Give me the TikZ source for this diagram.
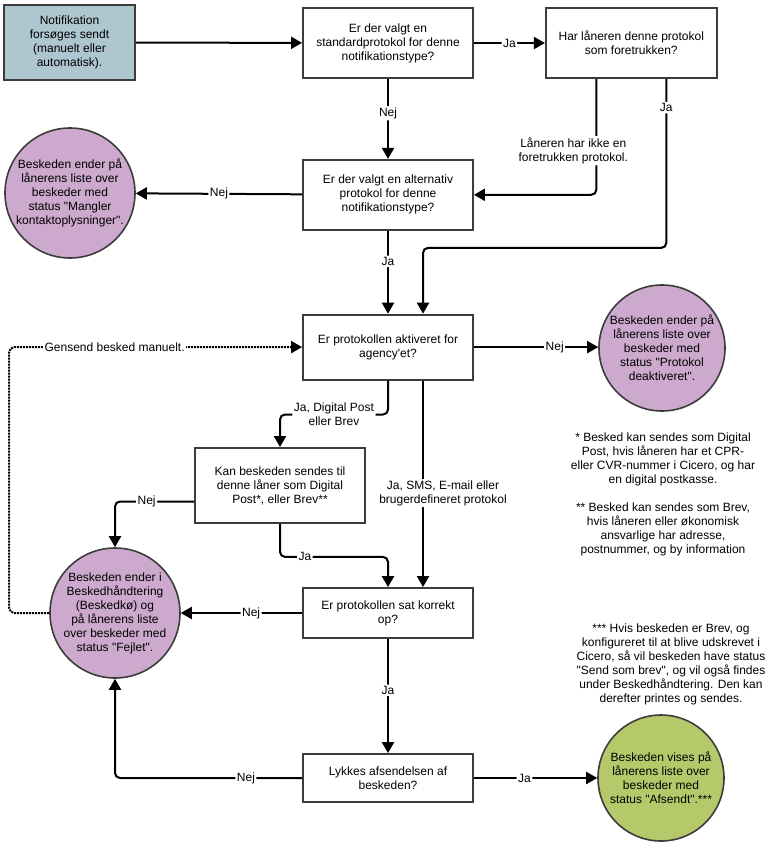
\documentclass[tikz,border=0pt]{standalone}
\usepackage{fontspec}
\newfontfamily\flowfont{Liberation Sans}
\usetikzlibrary{arrows.meta, positioning}
\definecolor{startblue}{RGB}{174,198,207}
\definecolor{endpurple}{RGB}{205,170,205}
\definecolor{endgreen}{RGB}{181,201,107}
\definecolor{boxline}{RGB}{60,60,60}
\tikzset{
    >={Triangle[length=11pt,width=12pt]}, % filled block arrow heads
    every node/.style={font=\flowfont\fontsize{12}{14}\selectfont, align=center}, % Arial-like text everywhere
    box/.style={draw=boxline, line width=1.8pt, minimum width=170pt, inner sep=2pt}, % question boxes
    startbox/.style={box, fill=startblue, minimum width=131pt, minimum height=75pt}, % where it all begins
    endstate/.style={circle, draw=boxline, line width=1.6pt, fill=endpurple, minimum size=130pt, inner sep=-4pt}, % outcomes
    flow/.style={->, line width=2pt, rounded corners=5pt}, % the connectors
    lbl/.style={fill=white, inner sep=1.5pt}, % Ja / Nej labels on the connectors
}

\begin{document}
\begin{tikzpicture}[x=1pt, y=-1pt]
            \useasboundingbox (0,0) rectangle (778,848);
            \node[startbox] (start) at (69.5,42.5) {Notifikation\\forsøges sendt\\(manuelt eller\\automatisk).};
            \node[box, minimum height=70pt] (std) at (388,43) {Er der valgt en\\standardprotokol for denne\\notifikationstype?};
            \node[box, minimum height=70pt, minimum width=171pt, right=71pt of std] (pref) {Har låneren denne protokol\\som foretrukken?};
            \node[box, minimum height=70pt, below=80pt of std] (alt) {Er der valgt en alternativ\\protokol for denne\\notifikationstype?};
            \node[box, minimum height=65pt, below=83pt of alt] (active) {Er protokollen aktiveret for\\agency'et?};
            \node[box, minimum height=75pt] (digital) at (280,485.5) {Kan beskeden sendes til\\denne låner som Digital\\Post*, eller Brev**};
            \node[box, minimum height=50pt] (setup) at (388,613) {Er protokollen sat korrekt\\op?};
            \node[box, minimum height=48pt] (sent) at (388,778) {Lykkes afsendelsen af\\beskeden?};
            \node[endstate] (nocontact) at (70,193) {Beskeden ender på\\lånerens liste over\\beskeder med\\status "Mangler\\kontaktoplysninger".};
            \node[endstate, minimum size=126pt] (deactivated) at (662,348) {Beskeden ender på\\lånerens liste over\\beskeder med\\status "Protokol\\deaktiveret".};
            \node[endstate] (failed) at (115,613) {Beskeden ender i\\Beskedhåndtering\\(Beskedkø) og\\på lånerens liste\\over beskeder med\\status "Fejlet".};
            \node[endstate, fill=endgreen, minimum size=126pt] (success) at (661,778) {Beskeden vises på\\lånerens liste over\\beskeder med\\status "Afsendt".***};
            \node (note1) at (663,459) {* Besked kan sendes som Digital\\Post, hvis låneren har et CPR-\\eller CVR-nummer i Cicero, og har\\en digital postkasse.};
            \node (note2) at (663,529) {** Besked kan sendes som Brev,\\hvis låneren eller økonomisk\\ansvarlige har adresse,\\postnummer, og by information};
            \node (note3) at (671,664) {*** Hvis beskeden er Brev, og\\konfigureret til at blive udskrevet i\\Cicero, så vil beskeden have status\\"Send som brev", og vil også findes\\under Beskedhåndtering. Den kan\\derefter printes og sendes.};
            \draw[flow] (start) -- (std);
            \draw[flow] (std) -- node[lbl]{Ja} (pref);
            \draw[flow] (std) -- node[lbl, pos=0.43]{Nej} (alt);
            \draw[flow] ([xshift=-35pt]pref.south) |- node[lbl, pos=0.31, xshift=-23pt]{Låneren har ikke en\\foretrukken protokol.} (alt.east);
            \draw[flow] ([xshift=35pt]pref.south) -- node[lbl, pos=0.17]{Ja} ++(0,169) -| ([xshift=35pt]active.north);
            \draw[flow] (alt) -- node[lbl, pos=0.37]{Ja} (active);
            \draw[flow] (alt) -- node[lbl]{Nej} (nocontact);
            \draw[flow] (active.east) -- node[lbl, pos=0.65]{Nej} (deactivated.west |- active.east);
            \draw[flow] (active.south) -- ++(0,34) -| node[lbl, pos=0.25]{Ja, Digital Post\\eller Brev} (digital.north);
            \draw[flow] ([xshift=35pt]active.south) -- node[lbl, pos=0.545, xshift=20pt]{Ja, SMS, E-mail eller\\brugerdefineret protokol} ([xshift=35pt]setup.north);
            \draw[flow] (digital.south) -- ++(0,33) -| node[lbl, pos=0.115]{Ja} (setup.north);
            \draw[flow] ([yshift=-16pt]digital.west) -| node[lbl, pos=0.3]{Nej} (failed.north);
            \draw[flow] (setup) -- node[lbl, pos=0.42]{Nej} (failed);
            \draw[flow] (setup) -- node[lbl, pos=0.45]{Ja} (sent);
            \draw[flow] (sent.west) -| node[lbl, pos=0.15]{Nej} (failed.south);
            \draw[flow] (sent) -- node[lbl, pos=0.41]{Ja} (success);
            \draw[flow, densely dotted] (failed.west) -- ++(-40,0) |- node[lbl, pos=0.68]{Gensend besked manuelt.} (active.west);
\end{tikzpicture}
\end{document}
